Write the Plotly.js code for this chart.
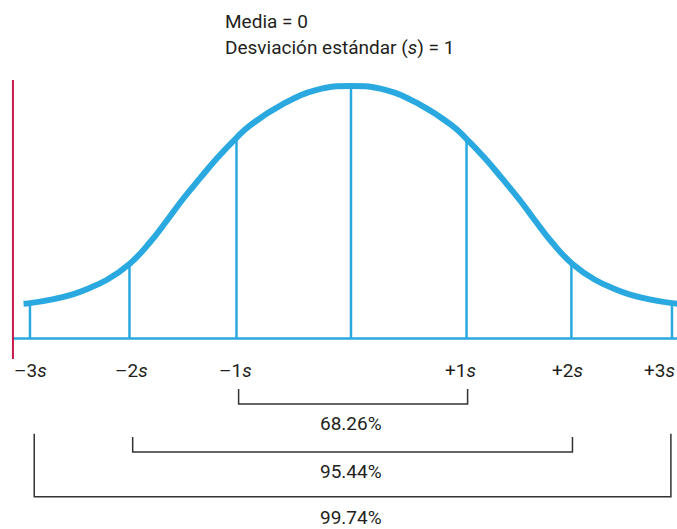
<!DOCTYPE html>
<html>
<head>
<meta charset="utf-8">
<script src="https://cdn.plot.ly/plotly-3.0.1.min.js"></script>
<style>html,body{margin:0;padding:0;background:#fff;}#chart{width:677px;height:529px;}</style>
</head>
<body>
<div id="chart"></div>
<script>
// Curve (x in standard deviations, y as density height)
const curveX = [-3.06,-3.00,-2.79,-2.60,-2.47,-2.28,-2.07,-1.88,-1.72,-1.57,-1.41,-1.25,-1.07,-0.94,-0.64,-0.32,0,
                0.32,0.64,0.94,1.07,1.25,1.41,1.57,1.72,1.88,2.07,2.28,2.47,2.60,2.79,3.00,3.06];
const curveY = [0.055,0.056,0.062,0.070,0.078,0.093,0.118,0.152,0.187,0.221,0.254,0.286,0.318,0.338,0.371,0.394,0.400,
                0.394,0.371,0.338,0.318,0.286,0.254,0.221,0.187,0.152,0.118,0.093,0.078,0.070,0.062,0.056,0.055];
// Vertical markers at the sigma positions
const markX = [-3.00,-2.07,-1.07,0,1.08,2.06,3.00];
const markY = [0.056,0.118,0.318,0.400,0.318,0.118,0.056];
// Tick labels
const tickIdx = [0,1,2,4,5,6];
const tickNum = ['–3','–2','–1','+1','+2','+3'];
// Percentages and their bracket ranges (indices into markX)
const pctLabels = ['68.26%','95.44%','99.74%'];
const pctFrom = [2,1,0];
const pctTo = [4,5,6];
const titleLines = ['Media = 0','Desviación estándar (<i>s</i>) = 1'];

const BLUE = '#2aa9e1';
const FONT = 'Roboto, "DejaVu Sans Condensed", sans-serif';
const TXT = '#231f20';

const vx = [], vy = [];
markX.forEach((x,i)=>{ vx.push(x,x,null); vy.push(0,markY[i],null); });

const traces = [
  {x: vx, y: vy, mode:'lines', line:{color:BLUE, width:2.5}, hoverinfo:'skip'},
  {x: curveX, y: curveY, mode:'lines', line:{color:BLUE, width:6, shape:'spline', smoothing:1.3}, hoverinfo:'skip'}
];

const shapes = [
  {type:'line', xref:'x', yref:'y', x0:-3.159, x1:3.1, y0:0, y1:0, line:{color:BLUE, width:2.5}},
  {type:'line', xref:'x', yref:'y', x0:-3.159, x1:-3.159, y0:0.4097, y1:-0.0325, line:{color:'#c9184a', width:2}}
];
const bracketTop = [-0.080,-0.156,-0.151];
const bracketBot = [-0.1038,-0.180,-0.251];
const pctY = [-0.1355,-0.2116,-0.2845];
const bracketPad = [0.02,0.03,0.04];
const annotations = [];
pctLabels.forEach((t,i)=>{
  const a = markX[pctFrom[i]] + bracketPad[i], b = markX[pctTo[i]] + (i==2? -0.01 : 0.01);
  shapes.push({type:'path', xref:'x', yref:'y',
    path:`M ${a} ${bracketTop[i]} L ${a} ${bracketBot[i]} L ${b} ${bracketBot[i]} L ${b} ${bracketTop[i]}`,
    line:{color:'#333', width:1.5}});
  annotations.push({x:0, y:pctY[i], xref:'x', yref:'y', text:t, showarrow:false,
    font:{family:FONT, size:19, color:TXT}, xanchor:'center', yanchor:'middle'});
});
const tickShift = [1,2,-1,-6,-4,-12];
tickIdx.forEach((k,i)=>{
  annotations.push({x:markX[k], y:-0.05, xref:'x', yref:'y', text:tickNum[i]+'<i>s</i>', showarrow:false,
    xshift:tickShift[i], font:{family:FONT, size:19, color:TXT}, xanchor:'center', yanchor:'middle'});
});
const titleY = [0.503, 0.461];
titleLines.forEach((t,i)=>{
  annotations.push({x:-1.196, y:titleY[i], xref:'x', yref:'y', text:t, showarrow:false,
    font:{family:FONT, size:19, color:TXT}, xanchor:'left', yanchor:'middle'});
});

const layout = {
  width:677, height:529, margin:{l:0,r:0,t:0,b:0},
  paper_bgcolor:'#fff', plot_bgcolor:'#fff', showlegend:false,
  xaxis:{range:[-3.28,3.047], visible:false, fixedrange:true},
  yaxis:{range:[-0.302,0.5364], visible:false, fixedrange:true},
  shapes, annotations
};
Plotly.newPlot('chart', traces, layout, {displayModeBar:false, staticPlot:true});
</script>
</body>
</html>
